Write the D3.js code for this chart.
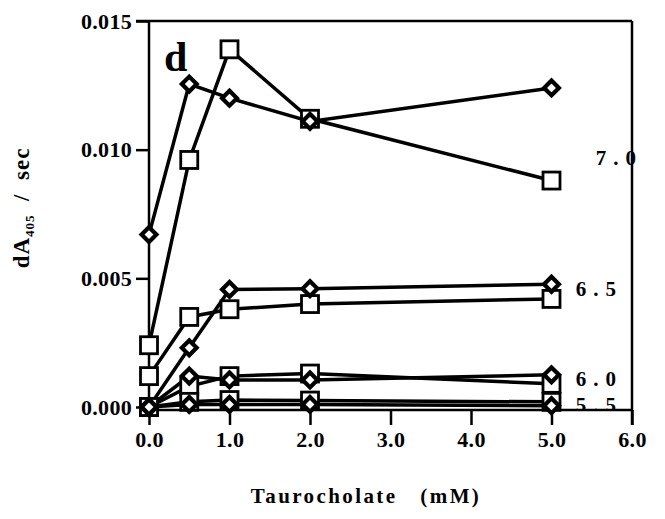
<!DOCTYPE html>
<html>
<head>
<meta charset="utf-8">
<script src="https://cdn.jsdelivr.net/npm/d3@7"></script>
<style>
  body { margin: 0; background: #fff; }
  text { font-family: "Liberation Serif", "Times New Roman", serif; font-weight: bold; fill: #000; }
</style>
</head>
<body>
<div id="chart"></div>
<script>
// taurocholate concentrations (mM)
var conc = [0, 0.5, 1.0, 2.0, 5.0];

// dA405/sec, diamonds and squares per pH
var ph70Diamond = [0.0067, 0.01255, 0.0120, 0.0111, 0.0124];
var ph70Square  = [0.0024, 0.0096, 0.0139, 0.0112, 0.0088];
var ph65Diamond = [0.0000, 0.0023, 0.00457, 0.0046, 0.00477];
var ph65Square  = [0.0012, 0.0035, 0.0038, 0.0040, 0.0042];
var ph60Diamond = [0.0000, 0.0012, 0.00105, 0.00105, 0.00125];
var ph60Square  = [0.0000, 0.0008, 0.0012, 0.0013, 0.0009];
var ph55Diamond = [0.0000, 0.0001, 0.0001, 0.0001, 0.00005];
var ph55Square  = [0.0000, 0.0002, 0.00027, 0.00025, 0.0002];

var xTicks = [0, 1, 2, 3, 4, 5, 6];
var yTicks = [0, 0.005, 0.010, 0.015];

// pH labels: text, x anchor (mM), y anchor (dA/sec)
var phLabels = ["7.0", "6.5", "6.0", "5.5"];
var phLabelX = [5.55, 5.3, 5.3, 5.3];
var phLabelY = [0.0097, 0.0046, 0.0011, 0.0001];

var series = [
  {vals: ph70Square,  shape: "square"},
  {vals: ph65Square,  shape: "square"},
  {vals: ph60Square,  shape: "square"},
  {vals: ph55Square,  shape: "square"},
  {vals: ph70Diamond, shape: "diamond"},
  {vals: ph65Diamond, shape: "diamond"},
  {vals: ph60Diamond, shape: "diamond"},
  {vals: ph55Diamond, shape: "diamond"}
];

var w = 665, h = 519;
var mLeft = 149, mRight = 632, mTop = 21, axisY = 410;

var x = d3.scaleLinear().domain([0, 6]).range([mLeft, mRight]);
var y = d3.scaleLinear().domain([0, 0.015]).range([407, mTop]);

var svg = d3.select("#chart").append("svg")
  .attr("width", w)
  .attr("height", h);

svg.append("defs").append("clipPath").attr("id", "abovex")
  .append("rect").attr("x", 0).attr("y", 0).attr("width", w).attr("height", axisY - 1);

// axes
var yAxis = svg.append("g")
  .attr("transform", "translate(" + mLeft + ",0)")
  .call(d3.axisLeft(y).tickValues(yTicks).tickSize(13).tickPadding(4).tickFormat(d3.format(".3f")));

var xAxis = svg.append("g")
  .attr("transform", "translate(0," + axisY + ")")
  .call(d3.axisBottom(x).tickValues(xTicks).tickSize(15).tickPadding(6).tickFormat(d3.format(".1f")));

[yAxis, xAxis].forEach(function(g){
  g.select(".domain").remove();
  g.selectAll("line").attr("stroke", "#000").attr("stroke-width", 2.5);
  g.selectAll("text").style("font-size", "22px").style("letter-spacing", "0.3px")
    .style("font-family", "'Liberation Serif', serif").style("font-weight", "bold");
});

// frame
var frame = svg.append("g").attr("stroke", "#000").attr("stroke-width", 2.5).attr("fill", "none");
frame.append("line").attr("x1", mLeft - 13).attr("x2", mRight).attr("y1", mTop).attr("y2", mTop);
frame.append("line").attr("x1", mLeft).attr("x2", mLeft).attr("y1", mTop).attr("y2", axisY);
frame.append("line").attr("x1", mLeft).attr("x2", mRight).attr("y1", axisY).attr("y2", axisY);
frame.append("line").attr("x1", mRight).attr("x2", mRight).attr("y1", mTop).attr("y2", axisY + 15);

// lines
var line = d3.line()
  .x(function(d, i){ return x(conc[i]); })
  .y(function(d){ return y(d); });

svg.selectAll(".series")
  .data(series)
  .enter()
  .append("path")
  .attr("d", function(s){ return line(s.vals); })
  .attr("fill", "none")
  .attr("stroke", "#000")
  .attr("stroke-width", 3.5);

// markers (squares first, diamonds on top)
series.forEach(function(s){
  var g = svg.append("g");
  if(s.shape == "square"){
    g.selectAll("rect")
      .data(s.vals)
      .enter()
      .append("rect")
      .attr("x", function(d, i){ return x(conc[i]) - 8.5; })
      .attr("y", function(d){ return y(d) - 8.5; })
      .attr("width", 17)
      .attr("height", 17)
      .attr("fill", "#fff")
      .attr("stroke", "#000")
      .attr("stroke-width", 2.8);
  }else{
    g.selectAll("path")
      .data(s.vals)
      .enter()
      .append("path")
      .attr("d", d3.symbol().type(d3.symbolDiamond2).size(140))
      .attr("transform", function(d, i){ return "translate(" + x(conc[i]) + "," + y(d) + ")"; })
      .attr("fill", "#fff")
      .attr("stroke", "#000")
      .attr("stroke-width", 4.2);
  }
});

// pH labels
svg.append("g").attr("clip-path", "url(#abovex)")
  .selectAll("text")
  .data(phLabels)
  .enter()
  .append("text")
  .attr("x", function(d, i){ return x(phLabelX[i]); })
  .attr("y", function(d, i){ return y(phLabelY[i]); })
  .attr("dy", "0.35em")
  .style("font-size", "21px")
  .style("letter-spacing", "7px")
  .text(function(d){ return d; });

// panel letter
svg.append("text")
  .attr("x", 164)
  .attr("y", 71)
  .style("font-size", "42px")
  .text("d");

// axis titles
var yt = svg.append("text")
  .attr("transform", "translate(29,208) rotate(-90)")
  .attr("text-anchor", "middle")
  .style("font-size", "23px")
  .style("letter-spacing", "1px");
yt.append("tspan").text("dA");
yt.append("tspan").attr("dy", 5).style("font-size", "13px").text("405");
yt.append("tspan").attr("dy", -5).text("\u00a0\u00a0/\u00a0\u00a0sec");

svg.append("text")
  .attr("x", 366)
  .attr("y", 503)
  .attr("text-anchor", "middle")
  .style("font-size", "21px")
  .style("letter-spacing", "2.4px")
  .text("Taurocholate\u00a0\u00a0\u00a0(mM)");
</script>
</body>
</html>
